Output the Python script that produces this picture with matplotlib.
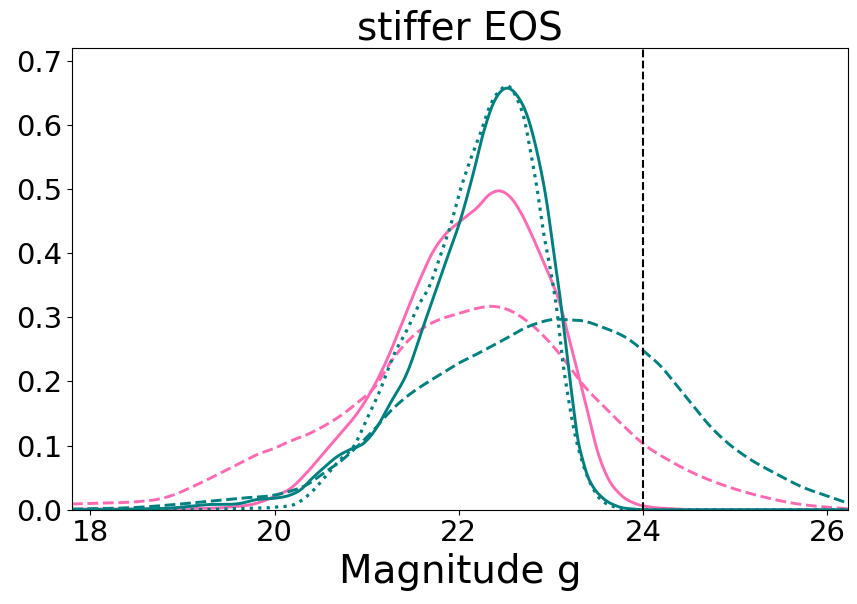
import numpy as np
import matplotlib
matplotlib.use('Agg')
import matplotlib.pyplot as plt

# magnitude grid points, with density values
teal_solid_x = [17.8, 18.5, 18.9, 19.27, 19.63, 19.81, 20.0, 20.17, 20.28, 20.4,
                20.53, 20.68, 20.82, 20.97, 21.08, 21.26, 21.44, 21.62, 21.73,
                21.87, 22.02, 22.16, 22.27, 22.38, 22.52, 22.63, 22.74, 22.85,
                22.96, 23.03, 23.10, 23.18, 23.24, 23.29, 23.35, 23.40, 23.47,
                23.55, 23.73, 23.9, 24.1, 26.23]
teal_solid_y = [0.0, 0.001, 0.003, 0.008, 0.010, 0.016, 0.018, 0.023, 0.031, 0.048,
                0.065, 0.083, 0.094, 0.104, 0.122, 0.167, 0.214, 0.288, 0.333,
                0.391, 0.453, 0.526, 0.589, 0.635, 0.657, 0.646, 0.615, 0.557,
                0.474, 0.401, 0.330, 0.235, 0.165, 0.112, 0.075, 0.052, 0.033,
                0.020, 0.005, 0.001, 0.0, 0.0]

teal_dot_x = [17.8, 19.0, 19.63, 20.0, 20.24, 20.39, 20.57, 20.71, 20.86, 21.0,
              21.15, 21.29, 21.44, 21.58, 21.67, 21.80, 21.91, 22.02, 22.13,
              22.24, 22.34, 22.45, 22.54, 22.63, 22.71, 22.78, 22.85, 22.92,
              23.0, 23.07, 23.12, 23.18, 23.25, 23.36, 23.50, 23.68, 23.9, 26.23]
teal_dot_y = [0.0, 0.0, 0.002, 0.004, 0.010, 0.026, 0.055, 0.078, 0.099, 0.141,
              0.188, 0.240, 0.281, 0.323, 0.345, 0.396, 0.443, 0.500, 0.547,
              0.589, 0.630, 0.654, 0.660, 0.641, 0.609, 0.557, 0.500, 0.432,
              0.370, 0.305, 0.240, 0.182, 0.125, 0.066, 0.023, 0.005, 0.0, 0.0]

teal_dash_x = [17.8, 18.54, 18.9, 19.27, 19.63, 20.0, 20.17, 20.35, 20.53, 20.71,
               20.90, 21.08, 21.26, 21.44, 21.62, 21.80, 21.98, 22.16, 22.45,
               22.78, 23.07, 23.18, 23.36, 23.55, 23.84, 24.01, 24.19, 24.37,
               24.55, 24.73, 24.92, 25.17, 25.46, 25.72, 26.01, 26.23]
teal_dash_y = [0.001, 0.004, 0.008, 0.013, 0.018, 0.023, 0.029, 0.039, 0.057, 0.075,
               0.099, 0.125, 0.154, 0.177, 0.195, 0.211, 0.227, 0.240, 0.262,
               0.287, 0.297, 0.296, 0.294, 0.285, 0.266, 0.247, 0.224, 0.193,
               0.161, 0.130, 0.104, 0.078, 0.055, 0.036, 0.021, 0.010]

pink_solid_x = [17.8, 18.5, 19.0, 19.5, 19.8, 20.0, 20.17, 20.35, 20.53, 20.71,
                20.90, 21.08, 21.22, 21.37, 21.51, 21.60, 21.70, 21.84, 22.02,
                22.20, 22.34, 22.43, 22.56, 22.67, 22.78, 22.89, 23.0, 23.09,
                23.18, 23.29, 23.40, 23.50, 23.61, 23.76, 23.91, 24.09, 24.27,
                24.6, 26.23]
pink_solid_y = [0.001, 0.001, 0.002, 0.004, 0.010, 0.021, 0.033, 0.058, 0.088, 0.118,
                0.151, 0.193, 0.234, 0.286, 0.336, 0.366, 0.397, 0.427, 0.450,
                0.471, 0.492, 0.497, 0.487, 0.464, 0.432, 0.396, 0.359, 0.325,
                0.276, 0.215, 0.152, 0.094, 0.052, 0.023, 0.010, 0.004, 0.002,
                0.0, 0.0]

pink_dash_x = [17.8, 18.0, 18.54, 18.72, 18.90, 19.08, 19.27, 19.45, 19.63, 19.81,
               20.0, 20.17, 20.35, 20.53, 20.71, 20.90, 21.08, 21.26, 21.44,
               21.62, 21.80, 21.98, 22.2, 22.34, 22.53, 22.74, 22.92, 23.11,
               23.36, 23.61, 23.83, 24.01, 24.27, 24.55, 24.92, 25.28, 25.64,
               26.0, 26.23]
pink_dash_y = [0.009, 0.010, 0.013, 0.016, 0.023, 0.034, 0.047, 0.060, 0.073, 0.086,
               0.096, 0.107, 0.117, 0.130, 0.146, 0.167, 0.190, 0.230, 0.262,
               0.284, 0.297, 0.305, 0.314, 0.317, 0.312, 0.294, 0.271, 0.240,
               0.193, 0.156, 0.125, 0.102, 0.078, 0.057, 0.036, 0.021, 0.010,
               0.004, 0.0016]

mag_limit = 24.0
teal = '#008080'
pink = '#ff69b4'


def smooth(x, y, n=800):
    # cubic Hermite through the read points for a clean curve
    x = np.asarray(x, float)
    y = np.asarray(y, float)
    xs = np.linspace(x[0], x[-1], n)
    h = np.diff(x)
    d = np.diff(y) / h
    m = np.zeros_like(y)
    m[1:-1] = (d[:-1] * h[1:] + d[1:] * h[:-1]) / (h[:-1] + h[1:])
    m[0], m[-1] = d[0], d[-1]
    for k in range(len(d)):
        if d[k] == 0:
            m[k] = m[k + 1] = 0
    idx = np.clip(np.searchsorted(x, xs) - 1, 0, len(h) - 1)
    t = (xs - x[idx]) / h[idx]
    h00 = 2 * t**3 - 3 * t**2 + 1
    h10 = t**3 - 2 * t**2 + t
    h01 = -2 * t**3 + 3 * t**2
    h11 = t**3 - t**2
    ys = (h00 * y[idx] + h10 * h[idx] * m[idx] + h01 * y[idx + 1]
          + h11 * h[idx] * m[idx + 1])
    return xs, np.clip(ys, 0, None)


fig = plt.figure(figsize=(8.57, 6.04), dpi=100)
ax = fig.add_axes([0.084, 0.156, 0.906, 0.765])

ax.plot(*smooth(pink_dash_x, pink_dash_y), color=pink, lw=2.1, ls='--')
ax.plot(*smooth(pink_solid_x, pink_solid_y), color=pink, lw=2.1)
ax.plot(*smooth(teal_dash_x, teal_dash_y), color=teal, lw=2.1, ls='--')
ax.plot(*smooth(teal_dot_x, teal_dot_y), color=teal, lw=2.3, ls=':')
ax.plot(*smooth(teal_solid_x, teal_solid_y), color=teal, lw=2.1)
ax.axvline(mag_limit, color='black', lw=1.5, ls='--')

ax.set_xlim(17.8, 26.23)
ax.set_ylim(0, 0.72)
ax.set_xticks([18, 20, 22, 24, 26])
ax.set_yticks([0.0, 0.1, 0.2, 0.3, 0.4, 0.5, 0.6, 0.7])
ax.tick_params(labelsize=21)
ax.set_xlabel('Magnitude g', fontsize=28)
ax.set_title('stiffer EOS', fontsize=28)

fig.savefig('out.png', dpi=100)
